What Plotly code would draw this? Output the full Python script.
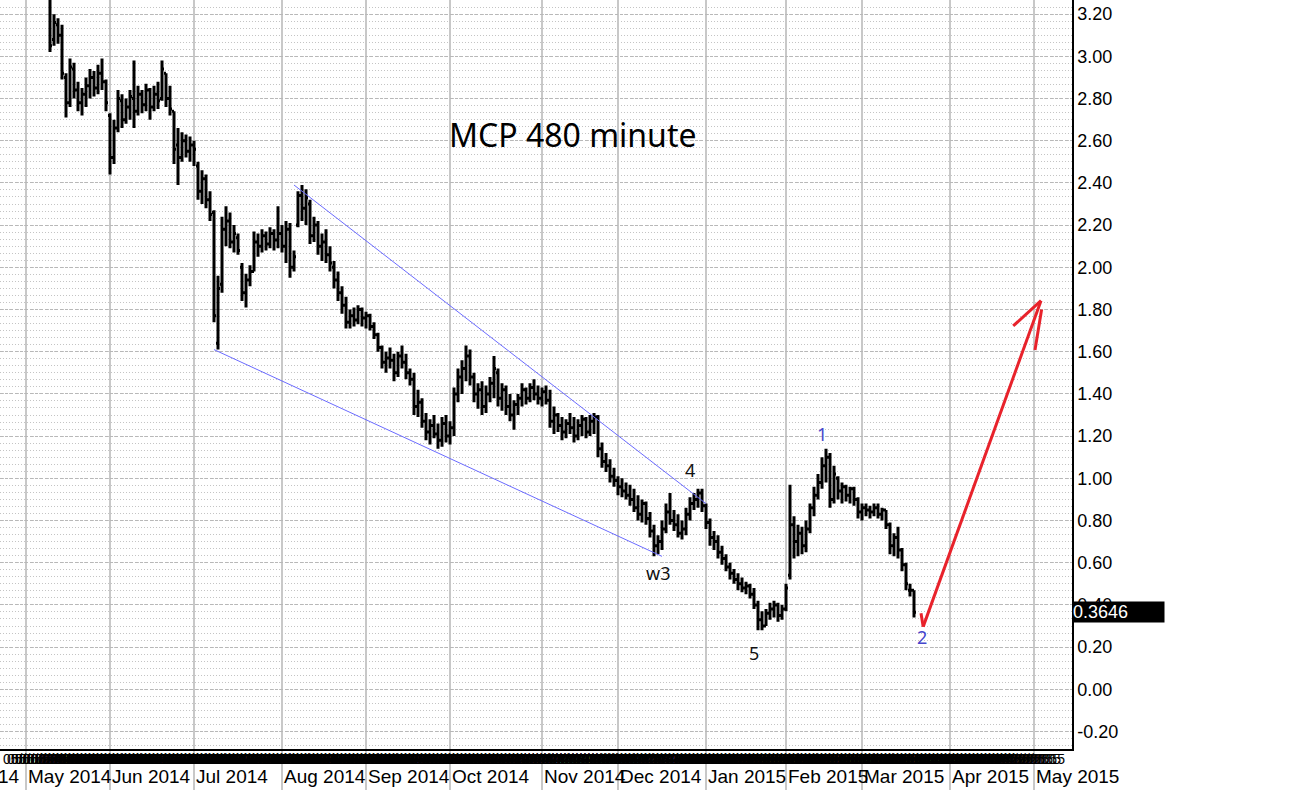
import pandas as pd
import plotly.graph_objects as go

# trading calendar (US market holidays removed)
holidays = ["2014-05-26", "2014-07-04", "2014-09-01", "2014-11-27", "2014-12-25",
            "2015-01-01", "2015-01-19", "2015-02-16", "2015-04-03"]
calendar = pd.bdate_range("2014-04-21", "2015-04-30", freq="C", holidays=holidays)

first_bar = "2014-05-09"

bar_open = [
    3.30, 3.08, 3.15, 3.10, 2.90, 2.78, 2.94, 2.84, 2.78, 2.82,
    2.86, 2.90, 2.85, 2.92, 2.88, 2.72, 2.52, 2.66, 2.79, 2.70,
    2.76, 2.80, 2.74, 2.82, 2.77, 2.84, 2.76, 2.82, 2.80, 2.92,
    2.80, 2.74, 2.58, 2.52, 2.60, 2.55, 2.58, 2.48, 2.36, 2.42,
    2.32, 2.26, 1.64, 1.92, 2.18, 2.22, 2.12, 2.14, 2.00, 1.88,
    1.94, 1.98, 2.12, 2.10, 2.15, 2.11, 2.16, 2.13, 2.16, 2.10,
    2.18, 2.00, 2.20, 2.34, 2.28, 2.30, 2.15, 2.20, 2.10, 2.12,
    2.06, 2.00, 1.94, 1.88, 1.82, 1.74, 1.77, 1.75, 1.80, 1.76,
    1.77, 1.72, 1.68, 1.62, 1.55, 1.57, 1.56, 1.50, 1.58, 1.55,
    1.50, 1.47, 1.34, 1.36, 1.27, 1.22, 1.25, 1.21, 1.18, 1.26,
    1.20, 1.24, 1.40, 1.48, 1.52, 1.58, 1.48, 1.40, 1.42, 1.34,
    1.40, 1.45, 1.50, 1.38, 1.42, 1.34, 1.30, 1.35, 1.38, 1.42,
    1.38, 1.43, 1.40, 1.38, 1.41, 1.37, 1.27, 1.30, 1.25, 1.22,
    1.26, 1.24, 1.20, 1.25, 1.28, 1.22, 1.27, 1.29, 1.14, 1.08,
    1.06, 1.01, 0.99, 0.96, 0.94, 0.92, 0.90, 0.86, 0.83, 0.88,
    0.81, 0.75, 0.68, 0.70, 0.76, 0.84, 0.80, 0.78, 0.74, 0.76,
    0.83, 0.88, 0.90, 0.93, 0.87, 0.79, 0.72, 0.70, 0.65, 0.62,
    0.58, 0.55, 0.52, 0.50, 0.48, 0.49, 0.45, 0.40, 0.33, 0.30,
    0.36, 0.38, 0.40, 0.35, 0.38, 0.54, 0.78, 0.70, 0.74, 0.68,
    0.76, 0.86, 0.92, 0.98, 1.06, 1.10, 0.90, 1.00, 0.94, 0.96,
    0.92, 0.95, 0.90, 0.84, 0.86, 0.85, 0.84, 0.86, 0.83, 0.85,
    0.78, 0.68, 0.72, 0.66, 0.59, 0.47, 0.47,
]
bar_high = [
    3.36, 3.20, 3.18, 3.15, 2.92, 2.99, 2.97, 2.88, 2.85, 2.90,
    2.94, 2.93, 2.96, 2.99, 2.89, 2.73, 2.70, 2.84, 2.82, 2.80,
    2.84, 2.98, 2.86, 2.84, 2.87, 2.85, 2.86, 2.88, 2.98, 2.92,
    2.86, 2.74, 2.66, 2.64, 2.63, 2.62, 2.60, 2.50, 2.46, 2.44,
    2.36, 2.27, 1.96, 2.24, 2.29, 2.26, 2.20, 2.16, 2.02, 1.97,
    2.01, 2.17, 2.16, 2.18, 2.17, 2.19, 2.18, 2.29, 2.20, 2.22,
    2.21, 2.08, 2.36, 2.39, 2.37, 2.32, 2.24, 2.22, 2.16, 2.18,
    2.10, 2.03, 1.98, 1.91, 1.86, 1.80, 1.81, 1.82, 1.81, 1.79,
    1.78, 1.74, 1.69, 1.63, 1.60, 1.62, 1.59, 1.60, 1.63, 1.59,
    1.52, 1.50, 1.42, 1.38, 1.31, 1.28, 1.30, 1.26, 1.29, 1.30,
    1.27, 1.43, 1.52, 1.56, 1.63, 1.61, 1.50, 1.45, 1.46, 1.44,
    1.48, 1.58, 1.52, 1.45, 1.44, 1.40, 1.37, 1.40, 1.45, 1.43,
    1.45, 1.47, 1.44, 1.43, 1.44, 1.42, 1.34, 1.31, 1.29, 1.28,
    1.31, 1.29, 1.28, 1.30, 1.29, 1.30, 1.31, 1.30, 1.17, 1.12,
    1.09, 1.05, 1.01, 1.00, 0.98, 0.97, 0.95, 0.92, 0.90, 0.89,
    0.84, 0.78, 0.73, 0.80, 0.88, 0.93, 0.85, 0.83, 0.80, 0.86,
    0.91, 0.93, 0.95, 0.95, 0.88, 0.81, 0.75, 0.73, 0.68, 0.64,
    0.60, 0.57, 0.55, 0.53, 0.51, 0.50, 0.48, 0.42, 0.37, 0.38,
    0.41, 0.42, 0.41, 0.40, 0.50, 0.97, 0.82, 0.78, 0.77, 0.80,
    0.88, 0.96, 1.02, 1.10, 1.14, 1.12, 1.06, 1.01, 0.98, 0.97,
    0.96, 0.96, 0.91, 0.88, 0.88, 0.87, 0.88, 0.88, 0.86, 0.85,
    0.79, 0.74, 0.77, 0.67, 0.60, 0.50, 0.47,
]
bar_low = [
    3.02, 3.05, 3.06, 2.89, 2.71, 2.76, 2.80, 2.74, 2.72, 2.76,
    2.80, 2.81, 2.82, 2.84, 2.74, 2.44, 2.49, 2.64, 2.66, 2.68,
    2.70, 2.66, 2.72, 2.73, 2.74, 2.70, 2.74, 2.75, 2.79, 2.76,
    2.72, 2.49, 2.39, 2.50, 2.52, 2.50, 2.48, 2.32, 2.30, 2.28,
    2.22, 1.74, 1.61, 1.88, 2.10, 2.09, 2.07, 2.06, 1.84, 1.81,
    1.91, 1.98, 2.05, 2.07, 2.08, 2.09, 2.08, 2.09, 2.07, 2.02,
    1.95, 1.98, 2.19, 2.22, 2.20, 2.11, 2.12, 2.06, 2.03, 2.02,
    1.98, 1.90, 1.84, 1.78, 1.71, 1.71, 1.72, 1.73, 1.72, 1.71,
    1.70, 1.66, 1.60, 1.52, 1.50, 1.52, 1.46, 1.48, 1.52, 1.47,
    1.44, 1.30, 1.29, 1.24, 1.18, 1.16, 1.19, 1.14, 1.15, 1.17,
    1.16, 1.20, 1.36, 1.40, 1.46, 1.44, 1.36, 1.33, 1.30, 1.31,
    1.36, 1.38, 1.34, 1.32, 1.30, 1.27, 1.23, 1.30, 1.34, 1.35,
    1.36, 1.37, 1.35, 1.34, 1.35, 1.24, 1.21, 1.22, 1.18, 1.19,
    1.21, 1.17, 1.18, 1.20, 1.19, 1.20, 1.21, 1.10, 1.05, 1.03,
    0.98, 0.96, 0.92, 0.91, 0.90, 0.87, 0.84, 0.80, 0.79, 0.78,
    0.72, 0.63, 0.64, 0.66, 0.74, 0.78, 0.75, 0.72, 0.71, 0.73,
    0.80, 0.85, 0.86, 0.84, 0.76, 0.68, 0.66, 0.62, 0.59, 0.56,
    0.52, 0.50, 0.47, 0.46, 0.45, 0.43, 0.38, 0.28, 0.28, 0.30,
    0.33, 0.34, 0.32, 0.33, 0.37, 0.52, 0.62, 0.63, 0.64, 0.65,
    0.74, 0.82, 0.90, 0.95, 0.98, 0.86, 0.88, 0.90, 0.88, 0.89,
    0.88, 0.87, 0.81, 0.80, 0.82, 0.81, 0.82, 0.81, 0.80, 0.76,
    0.64, 0.63, 0.62, 0.56, 0.47, 0.44, 0.34,
]
bar_close = [
    3.05, 3.16, 3.10, 2.92, 2.78, 2.95, 2.84, 2.78, 2.82, 2.86,
    2.90, 2.85, 2.92, 2.88, 2.78, 2.52, 2.66, 2.80, 2.70, 2.76,
    2.81, 2.74, 2.82, 2.77, 2.84, 2.76, 2.82, 2.79, 2.94, 2.80,
    2.75, 2.56, 2.52, 2.60, 2.55, 2.58, 2.56, 2.36, 2.42, 2.32,
    2.25, 1.77, 1.90, 2.18, 2.22, 2.12, 2.16, 2.08, 1.88, 1.94,
    1.98, 2.12, 2.10, 2.15, 2.11, 2.16, 2.13, 2.16, 2.10, 2.18,
    2.00, 2.05, 2.34, 2.28, 2.33, 2.15, 2.20, 2.10, 2.12, 2.06,
    2.02, 1.94, 1.88, 1.82, 1.74, 1.77, 1.75, 1.80, 1.76, 1.77,
    1.72, 1.68, 1.62, 1.55, 1.57, 1.56, 1.50, 1.58, 1.55, 1.50,
    1.47, 1.34, 1.36, 1.27, 1.22, 1.25, 1.21, 1.18, 1.26, 1.20,
    1.24, 1.40, 1.48, 1.52, 1.58, 1.48, 1.40, 1.42, 1.34, 1.40,
    1.45, 1.52, 1.38, 1.42, 1.34, 1.30, 1.35, 1.38, 1.42, 1.38,
    1.43, 1.40, 1.38, 1.41, 1.37, 1.27, 1.30, 1.25, 1.22, 1.26,
    1.24, 1.20, 1.25, 1.28, 1.22, 1.27, 1.29, 1.14, 1.08, 1.06,
    1.01, 0.99, 0.96, 0.94, 0.92, 0.90, 0.86, 0.83, 0.88, 0.81,
    0.75, 0.68, 0.70, 0.76, 0.84, 0.80, 0.78, 0.74, 0.76, 0.83,
    0.88, 0.90, 0.93, 0.87, 0.79, 0.72, 0.70, 0.65, 0.62, 0.58,
    0.55, 0.52, 0.50, 0.48, 0.49, 0.45, 0.40, 0.33, 0.30, 0.36,
    0.38, 0.40, 0.35, 0.38, 0.48, 0.78, 0.70, 0.74, 0.68, 0.76,
    0.86, 0.92, 0.98, 1.06, 1.10, 0.90, 1.02, 0.94, 0.96, 0.92,
    0.95, 0.90, 0.84, 0.86, 0.85, 0.84, 0.86, 0.83, 0.85, 0.78,
    0.68, 0.72, 0.66, 0.59, 0.50, 0.47, 0.3646,
]
last_price = 0.3646

month_starts = ["2014-05-01", "2014-06-01", "2014-07-01", "2014-08-01", "2014-09-01",
                "2014-10-01", "2014-11-01", "2014-12-01", "2015-01-01", "2015-02-01",
                "2015-03-01", "2015-04-01", "2015-05-01"]
month_labels = ["May 2014", "Jun 2014", "Jul 2014", "Aug 2014", "Sep 2014", "Oct 2014",
                "Nov 2014", "Dec 2014", "Jan 2015", "Feb 2015", "Mar 2015", "Apr 2015",
                "May 2015"]
y_ticks = [-0.2, 0.0, 0.2, 0.4, 0.6, 0.8, 1.0, 1.2, 1.4, 1.6, 1.8, 2.0, 2.2, 2.4,
           2.6, 2.8, 3.0, 3.2]
y_labels = ["-0.20", "0.00", "0.20", "0.40", "0.60", "0.80", "1.00", "1.20", "1.40",
            "1.60", "1.80", "2.00", "2.20", "2.40", "2.60", "2.80", "3.00", "3.20"]

# wave counts: (label, date, price)
wave_black = [("w3", "2014-12-15", 0.55), ("4", "2014-12-26", 1.04), ("5", "2015-01-21", 0.17)]
wave_blue = [("1", "2015-02-13", 1.21), ("2", "2015-03-23", 0.25)]

# channel lines: (date, price) pairs
upper_line = [("2014-08-06", 2.39), ("2015-01-02", 0.88)]
lower_line = [("2014-07-09", 1.61), ("2014-12-16", 0.63)]

def pos(d):
    return int(calendar.searchsorted(pd.Timestamp(d)))

start = pos(first_bar)
bar_x = list(range(start, start + len(bar_close)))
month_x = [pos(m) for m in month_starts]
origin = month_x[0]
all_x = list(range(len(calendar)))
all_text = [d.strftime("%m/%d/%Y") for d in calendar]

fig = go.Figure()
fig.add_trace(go.Ohlc(
    x=bar_x, open=bar_open, high=bar_high, low=bar_low, close=bar_close,
    increasing=dict(line=dict(color="black", width=3)),
    decreasing=dict(line=dict(color="black", width=3)),
    tickwidth=0.5, showlegend=False, hoverinfo="skip",
))
# carrier for the dense date axis
fig.add_trace(go.Scatter(x=[all_x[0], all_x[-1]], y=[None, None], xaxis="x2",
                         mode="markers", showlegend=False, hoverinfo="skip"))

blue = "#6b6bff"
for seg in (upper_line, lower_line):
    fig.add_shape(type="line", xref="x", yref="y",
                  x0=pos(seg[0][0]), y0=seg[0][1], x1=pos(seg[1][0]), y1=seg[1][1],
                  line=dict(color=blue, width=1))

# red projection arrow (trading-day offsets past the last bar)
red = "#e8222b"
arrow = [(2.3, 0.297), (31.75, 1.842)]
head = [[(31.75, 1.842), (24.8, 1.722)], [(31.9, 1.80), (30.25, 1.608)],
        [(1.75, 0.36), (2.3, 0.297)]]
last = bar_x[-1]
for (a, b) in [arrow] + head:
    fig.add_shape(type="line", xref="x", yref="y",
                  x0=last + a[0], y0=a[1], x1=last + b[0], y1=b[1],
                  line=dict(color=red, width=3))

axis_font = dict(family="Liberation Sans, Arial", size=19, color="black")
ann = []
ann.append(dict(text="MCP 480 minute", x=origin + 136.75, y=2.63, xref="x", yref="y",
                showarrow=False, font=dict(family="Noto Sans", size=32, color="black")))
for t, d, v in wave_black:
    ann.append(dict(text=t, x=pos(d), y=v, xref="x", yref="y", showarrow=False,
                    font=dict(family="Noto Sans", size=18, color="#111111")))
for t, d, v in wave_blue:
    ann.append(dict(text=t, x=pos(d), y=v, xref="x", yref="y", showarrow=False,
                    font=dict(family="Noto Sans", size=18, color="#4646cc")))
for mx, ml in zip(month_x, month_labels):
    ann.append(dict(text=ml, x=mx, y=0, xref="x", yref="paper", xanchor="left",
                    yanchor="middle", yshift=-27, showarrow=False, font=axis_font))
ann.append(dict(text="Apr 2014", x=origin - 1, y=0, xref="x", yref="paper", xanchor="right",
                yanchor="middle", yshift=-27, showarrow=False, font=axis_font))
ann.append(dict(text="%.4f" % last_price, x=1, y=last_price, xref="paper", yref="y",
                xanchor="left", yanchor="middle", showarrow=False, bgcolor="black",
                width=91, align="left", borderpad=0,
                font=dict(family="Liberation Sans, Arial", size=18, color="white")))

xr = [origin - 6.5, origin + 261.5]
fig.update_layout(
    width=1293, height=790,
    margin=dict(l=0, r=221, t=0, b=41),
    paper_bgcolor="white", plot_bgcolor="white",
    annotations=ann,
    xaxis=dict(range=xr, tickmode="array", tickvals=month_x, showticklabels=False,
               ticks="outside", ticklen=40, tickcolor="#c8c8c8", tickwidth=2,
               showgrid=True, gridcolor="#c8c8c8", gridwidth=2,
               showline=True, linecolor="black", linewidth=2, zeroline=False,
               rangeslider=dict(visible=False)),
    xaxis2=dict(overlaying="x", matches="x", side="bottom", anchor="y",
                tickmode="array", tickvals=all_x, ticktext=all_text, tickangle=0,
                tickfont=dict(family="Liberation Sans, Arial", size=14, color="black"),
                showgrid=False, ticks="", zeroline=False, showline=False),
    yaxis=dict(side="right", range=[-0.283, 3.267], tickmode="array", tickvals=y_ticks,
               ticktext=y_labels, ticks="",
               tickfont=dict(family="Liberation Sans, Arial", size=18, color="black"),
               showgrid=True, gridcolor="#b8b8b8", griddash="3px,2px", gridwidth=1,
               minor=dict(tickmode="linear", tick0=0, dtick=0.2 / 6, showgrid=True,
                          gridcolor="#c4c4c4", griddash="1px,2px", gridwidth=1),
               showline=True, linecolor="black", linewidth=1.5, zeroline=False),
)

fig.write_html("out.html", config={"displayModeBar": False},
               post_script="document.body.style.margin='0';")
